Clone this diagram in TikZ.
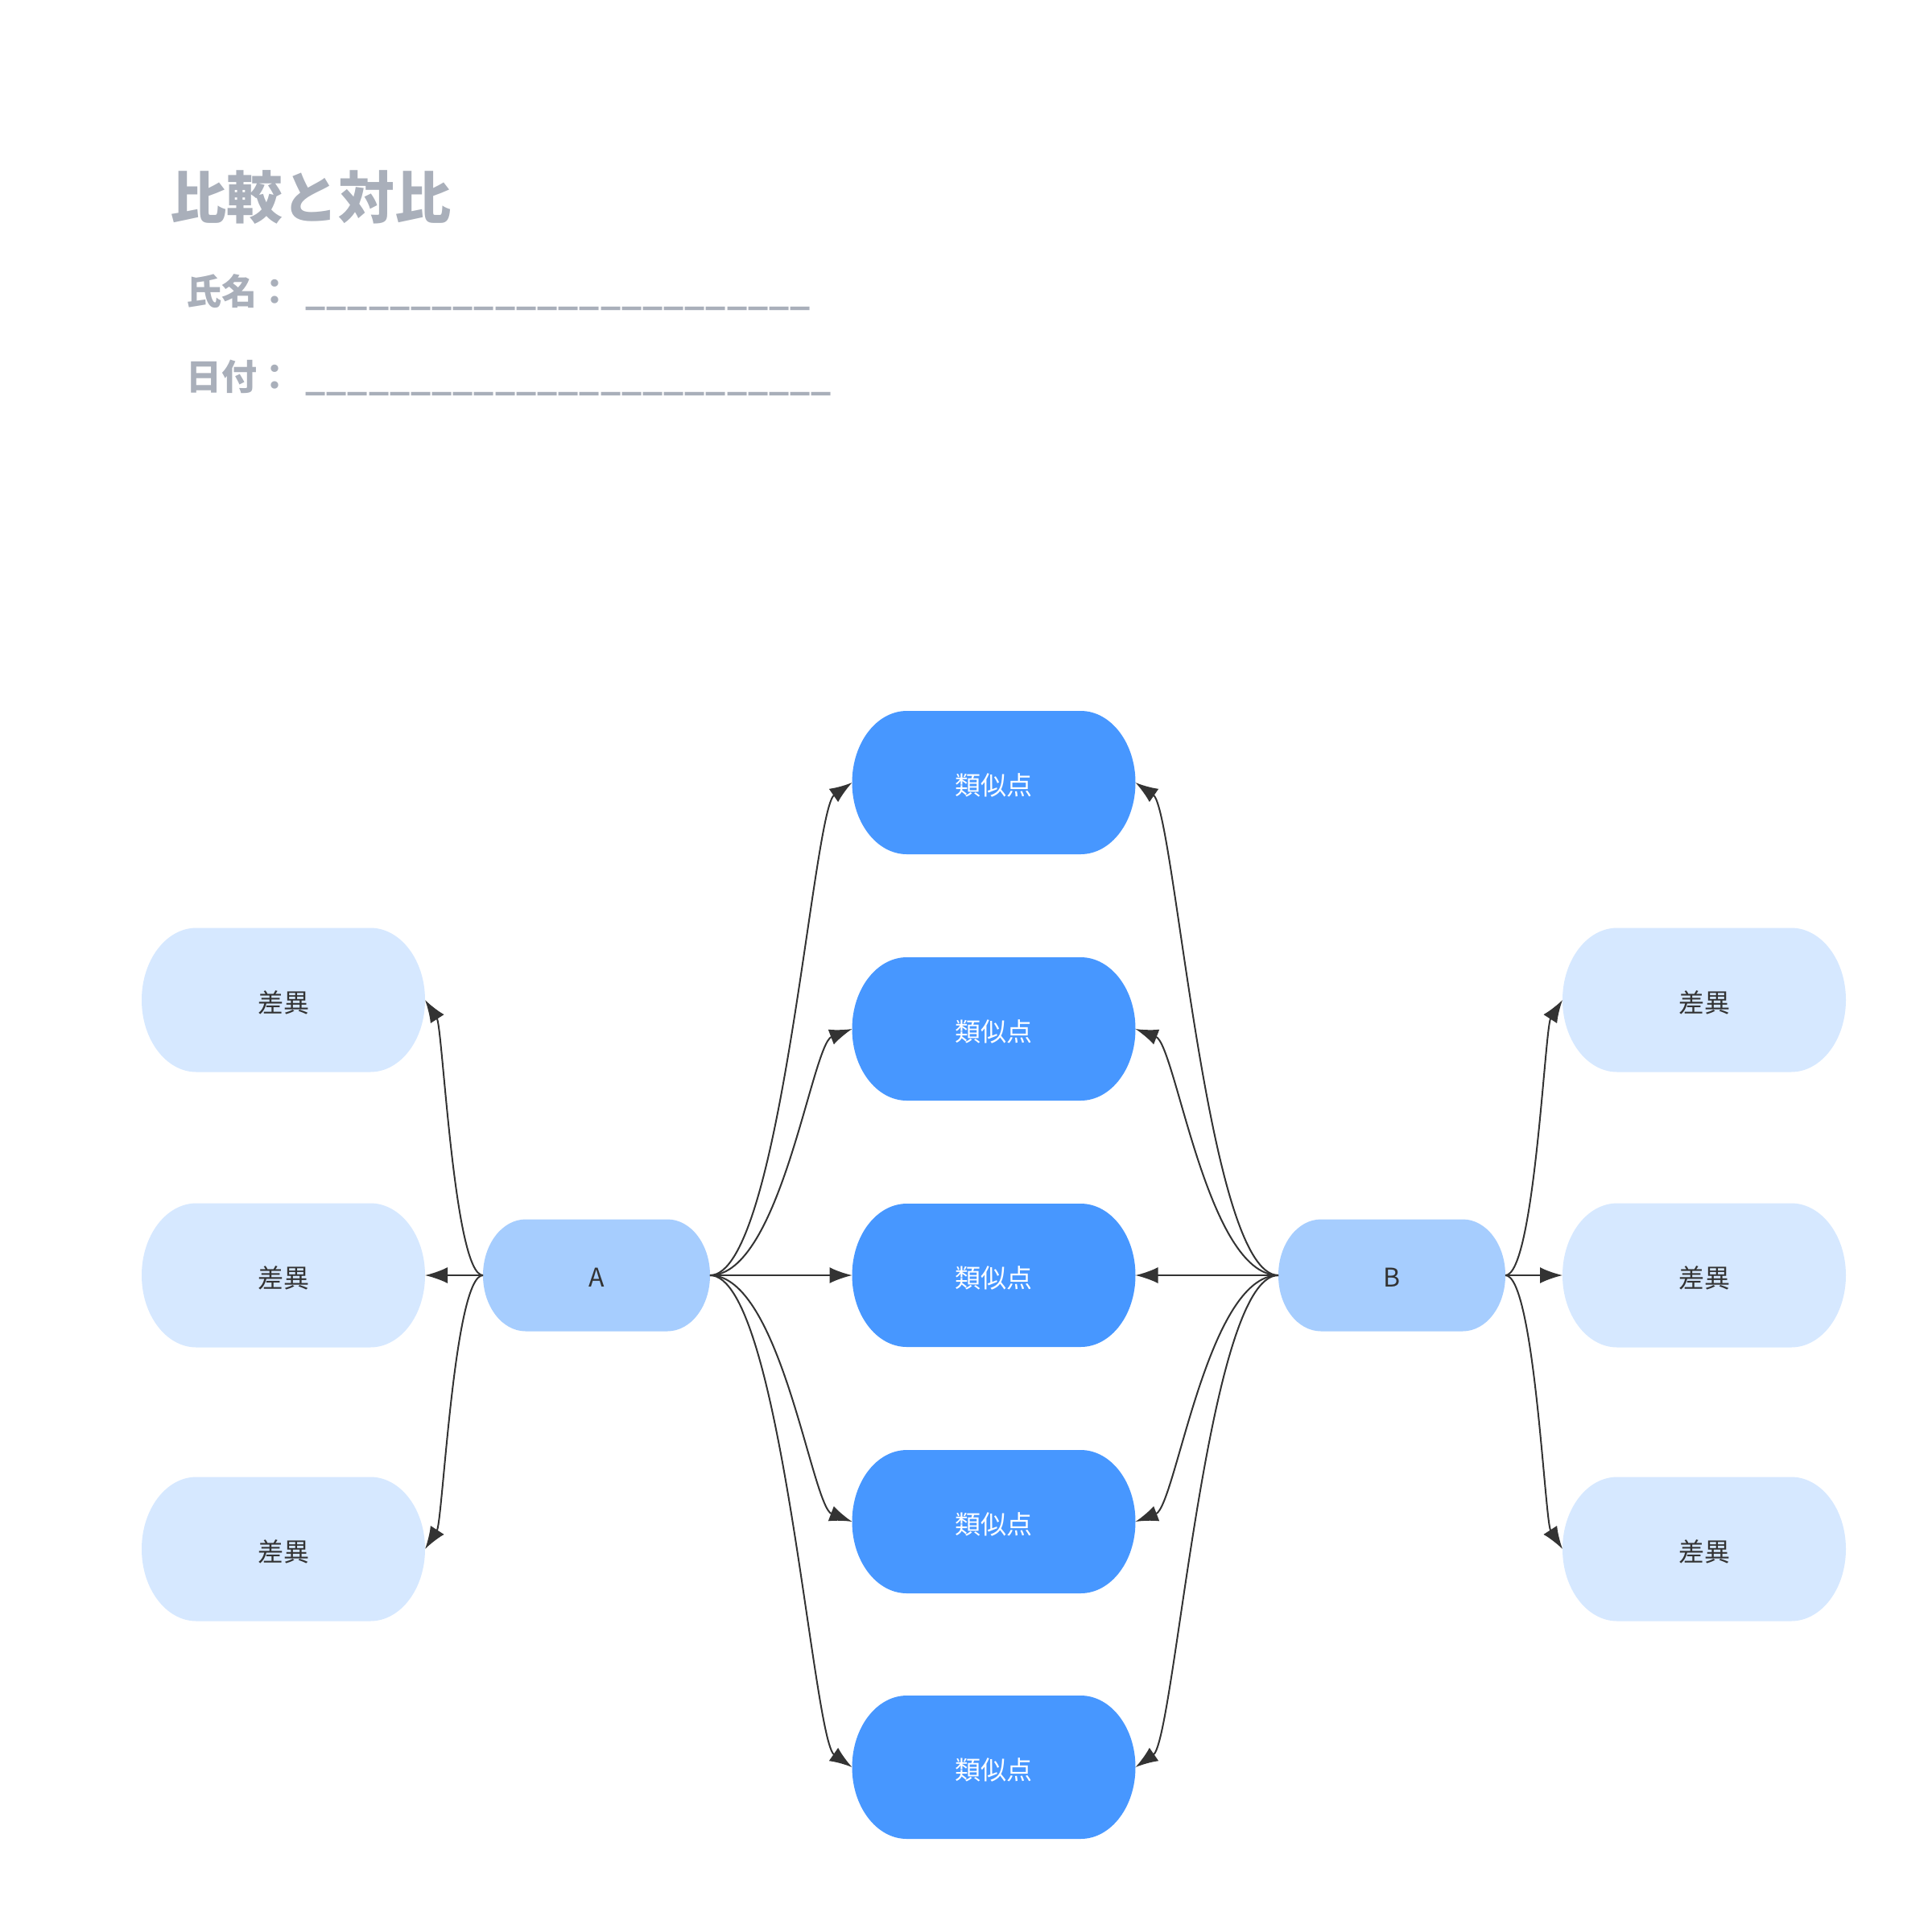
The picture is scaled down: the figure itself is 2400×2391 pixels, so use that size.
\documentclass[tikz,border=0pt]{standalone}
\usepackage{fontspec}
\setmainfont{Noto Sans CJK JP}
\usetikzlibrary{arrows.meta}
\definecolor{simfill}{HTML}{4797FF}
\definecolor{abfill}{HTML}{A6CDFE}
\definecolor{difffill}{HTML}{D6E8FF}
\definecolor{inkc}{HTML}{333333}
\definecolor{titlegray}{HTML}{A9AFBA}
\tikzset{
  pill/.style={shape=rectangle,inner sep=0pt,outer sep=0pt,font=\fontsize{9.6pt}{11pt}\selectfont},
  conn/.style={draw=inkc,line width=0.6pt,-{Latex[length=8.4pt,width=6pt]}},
  titletext/.style={inner sep=0pt,outer sep=0pt,text=titlegray,font=\fontsize{21pt}{24pt}\selectfont\bfseries},
  labeltext/.style={inner sep=0pt,outer sep=0pt,text=titlegray,font=\fontsize{13.2pt}{15pt}\selectfont\bfseries}
}
\newcommand\usc{\_\kern0.3pt}
% #1 name, #2 cx, #3 cy (px, downward), #4 w, #5 h, #6 rx, #7 fill, #8 text colour, #9 text
\newcommand\pillnode[9]{%
  \fill[#7] ({#2-#4/2+#6},{-#3+#5/2}) -- ({#2+#4/2-#6},{-#3+#5/2})
    arc[start angle=90,end angle=-90,x radius=#6*0.3pt,y radius=#5*0.15pt]
    -- ({#2-#4/2+#6},{-#3-#5/2})
    arc[start angle=270,end angle=90,x radius=#6*0.3pt,y radius=#5*0.15pt] -- cycle;
  \node[pill,text=#8,minimum width=#4*0.3pt,minimum height=#5*0.3pt] (#1) at (#2,-#3) {\raisebox{-0.9pt}[\height][\depth]{#9}};
}
\begin{document}
\begin{tikzpicture}[x=0.3pt,y=0.3pt]
\fill[white] (0,0) rectangle (2400,-2391);
\useasboundingbox (0,0) rectangle (2400,-2391);

\node[titletext,anchor=west] (title) at (211,-244.5) {比較と対比};
\node[labeltext,anchor=west] (name) at (231,-363) {氏名：\hspace{5pt}\usc\usc\usc\usc\usc\usc\usc\usc\usc\usc\usc\usc\usc\usc\usc\usc\usc\usc\usc\usc\usc\usc\usc\usc};
\node[labeltext,anchor=west] (date) at (231,-469) {日付：\hspace{5pt}\usc\usc\usc\usc\usc\usc\usc\usc\usc\usc\usc\usc\usc\usc\usc\usc\usc\usc\usc\usc\usc\usc\usc\usc\usc};

% similarity nodes
\pillnode{s1}{1234.5}{972}{352}{178}{68}{simfill}{white}{類似点}
\pillnode{s2}{1234.5}{1278}{352}{178}{68}{simfill}{white}{類似点}
\pillnode{s3}{1234.5}{1584}{352}{178}{68}{simfill}{white}{類似点}
\pillnode{s4}{1234.5}{1890}{352}{178}{68}{simfill}{white}{類似点}
\pillnode{s5}{1234.5}{2195}{352}{178}{68}{simfill}{white}{類似点}
% difference nodes
\pillnode{dl1}{352}{1242}{352}{179}{68}{difffill}{inkc}{差異}
\pillnode{dl2}{352}{1584}{352}{179}{68}{difffill}{inkc}{差異}
\pillnode{dl3}{352}{1924}{352}{179}{68}{difffill}{inkc}{差異}
\pillnode{dr1}{2117}{1242}{352}{179}{68}{difffill}{inkc}{差異}
\pillnode{dr2}{2117}{1584}{352}{179}{68}{difffill}{inkc}{差異}
\pillnode{dr3}{2117}{1924}{352}{179}{68}{difffill}{inkc}{差異}
% A and B
\pillnode{A}{741}{1584}{282}{139}{53}{abfill}{inkc}{A}
\pillnode{B}{1729}{1584}{282}{139}{53}{abfill}{inkc}{B}

% A to similarities
\draw[conn] (A.east) .. controls +(88,0) and +(-49,-34) .. (s1.west);
\draw[conn] (A.east) .. controls +(88,0) and +(-50,-19) .. (s2.west);
\draw[conn] (A.east) -- (s3.west);
\draw[conn] (A.east) .. controls +(88,0) and +(-50,19) .. (s4.west);
\draw[conn] (A.east) .. controls +(88,0) and +(-49,34) .. (s5.west);
% B to similarities
\draw[conn] (B.west) .. controls +(-89,0) and +(49,-34) .. (s1.east);
\draw[conn] (B.west) .. controls +(-89,0) and +(50,-19) .. (s2.east);
\draw[conn] (B.west) -- (s3.east);
\draw[conn] (B.west) .. controls +(-89,0) and +(50,19) .. (s4.east);
\draw[conn] (B.west) .. controls +(-89,0) and +(49,34) .. (s5.east);
% A to differences
\draw[conn] (A.west) .. controls +(-36,0) and +(22,-34) .. (dl1.east);
\draw[conn] (A.west) -- (dl2.east);
\draw[conn] (A.west) .. controls +(-36,0) and +(22,34) .. (dl3.east);
% B to differences
\draw[conn] (B.east) .. controls +(36,0) and +(-22,-34) .. (dr1.west);
\draw[conn] (B.east) -- (dr2.west);
\draw[conn] (B.east) .. controls +(36,0) and +(-22,34) .. (dr3.west);
\end{tikzpicture}
\end{document}
